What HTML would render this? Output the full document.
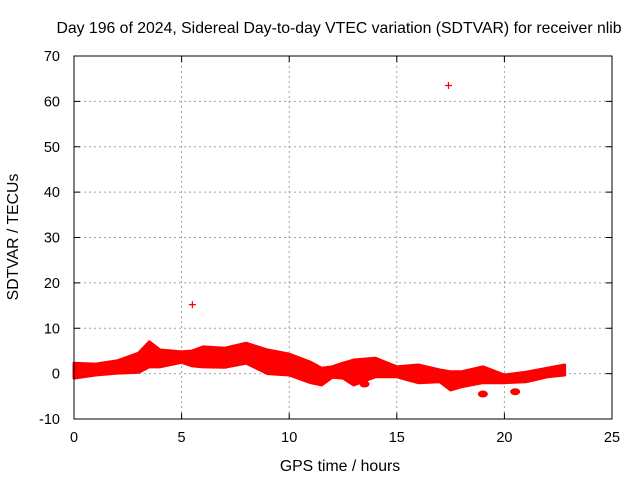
<!DOCTYPE html>
<html><head><meta charset="utf-8"><style>
body{margin:0;background:#fff}
svg{display:block;font-family:"Liberation Sans",sans-serif}
</style></head><body>
<svg id="chart" width="640" height="480">
<rect width="640" height="480" fill="#fff"/>
<text x="339" y="33" font-size="15.8" text-anchor="middle">Day 196 of 2024, Sidereal Day-to-day VTEC variation (SDTVAR) for receiver nlib</text>
<text x="340" y="471" font-size="15.8" text-anchor="middle">GPS time / hours</text>
<text transform="translate(18,237) rotate(-90)" font-size="15.8" text-anchor="middle">SDTVAR / TECUs</text>
<g id="grid"></g><g id="ticks"></g><g id="marks"></g>
<rect x="74" y="56" width="538" height="363" fill="none" stroke="#000" stroke-width="1"/>
</svg>
<script>
const xTicks=[0,5,10,15,20,25];
const yTicks=[-10,0,10,20,30,40,50,60,70];
const bandHours=[0,1,2,3,3.5,4,5,5.5,6,7,8,9,10,11,11.5,12,12.5,13,14,15,16,17,17.5,18,19,20,21,22,22.8];
const bandUpper=[2.3,2.1,2.8,4.5,7,5.2,4.8,5,5.9,5.6,6.7,5.2,4.3,2.5,1.2,1.5,2.3,3,3.4,1.5,1.9,0.8,0.4,0.4,1.5,-0.3,0.3,1.2,1.9];
const bandLower=[-1,-0.3,0.1,0.3,1.5,1.5,2.5,1.7,1.5,1.4,2.3,0,-0.3,-2,-2.5,-0.8,-1,-2.5,-0.7,-0.7,-2,-1.8,-3.6,-2.9,-2,-2,-1.8,-0.7,-0.3];
const pointHours=[5.5,17.4];
const pointValues=[15.2,63.5];
const blobHours=[19,20.5,13.5];
const blobValues=[-4.5,-4,-2.3];
const X=h=>74+h*(538/25), Y=v=>419-(v+10)*(363/80);
const NS="http://www.w3.org/2000/svg";
function mk(t,a,p){const e=document.createElementNS(NS,t);for(const k in a)e.setAttribute(k,a[k]);p.appendChild(e);return e;}
const grid=document.getElementById('grid'),ticks=document.getElementById('ticks'),marks=document.getElementById('marks');
xTicks.forEach(t=>{const x=X(t);
 if(t>0&&t<25){const l=mk('line',{x1:x,x2:x,y1:56,y2:419,stroke:'#a0a0a0','stroke-dasharray':'2,3'},grid);
 
 }
 const tx=mk('text',{x:x,y:442,'font-size':14.5,'text-anchor':'middle'},ticks);tx.textContent=t;
 
 
 mk('line',{x1:x,x2:x,y1:419,y2:413,stroke:'#000'},ticks);mk('line',{x1:x,x2:x,y1:56,y2:62,stroke:'#000'},ticks);});
yTicks.forEach(t=>{const y=Y(t);
 if(t>-10&&t<70){const l=mk('line',{x1:74,x2:612,y1:y,y2:y,stroke:'#a0a0a0','stroke-dasharray':'2,3'},grid);
 
 }
 const tx=mk('text',{x:60,y:y+5,'font-size':14.5,'text-anchor':'end'},ticks);tx.textContent=t;
 
 
 mk('line',{x1:74,x2:80,y1:y,y2:y,stroke:'#000'},ticks);mk('line',{x1:612,x2:606,y1:y,y2:y,stroke:'#000'},ticks);});
let pts=bandHours.map((h,i)=>X(h)+','+Y(bandUpper[i]));
for(let i=bandHours.length-1;i>=0;i--)pts.push(X(bandHours[i])+','+Y(bandLower[i]));
const band=mk('polygon',{points:pts.join(' '),fill:'#f00',stroke:'#f00','stroke-width':3,'stroke-linejoin':'round'},marks);


blobHours.forEach((h,i)=>{
 const b=mk('ellipse',{cx:X(h),cy:Y(blobValues[i]),rx:5,ry:3.5,fill:'#f00'},marks);
 
 });
pointHours.forEach((h,i)=>{const x=X(h),y=Y(pointValues[i]);
 const p=mk('path',{d:`M${x-3.5},${y}h7M${x},${y-3.5}v7`,stroke:'#f00','stroke-width':1.2,fill:'none'},marks);
 
 });
</script>
</body></html>
